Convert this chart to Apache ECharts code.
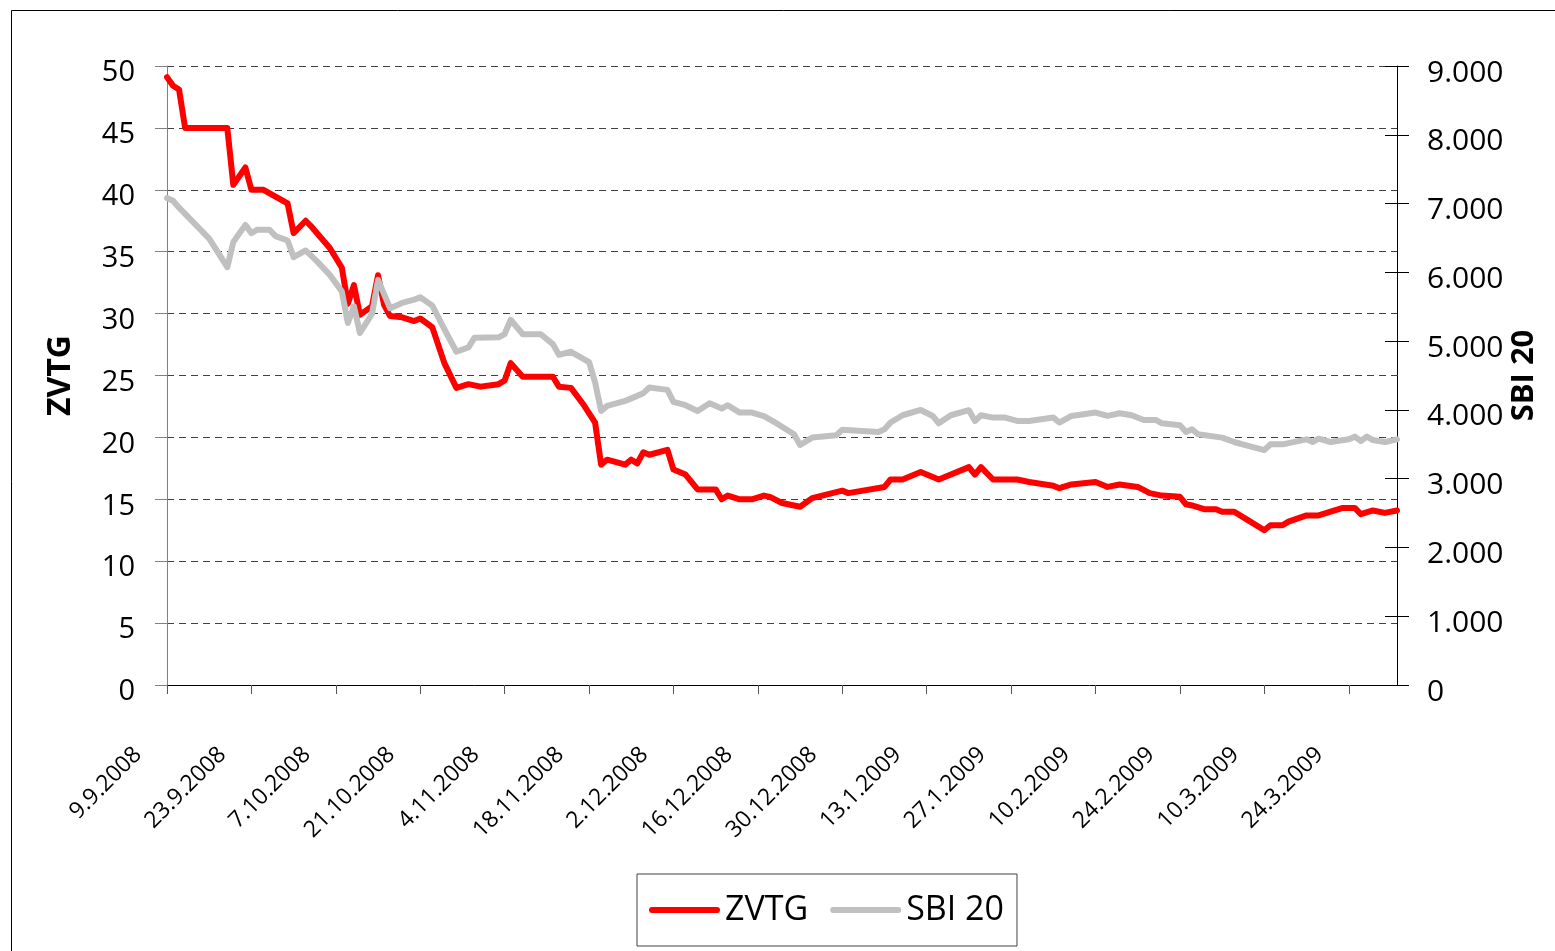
<!DOCTYPE html>
<html>
<head>
<meta charset="utf-8">
<script src="https://cdn.jsdelivr.net/npm/echarts@6/dist/echarts.min.js"></script>
<style>
html,body{margin:0;padding:0;background:#fff;}
#chart{width:1555px;height:951px;}
</style>
</head>
<body>
<div id="chart"></div>
<script>
// Category range: every calendar day from 9.9.2008 to 1.4.2009
const startDate = [2008, 9, 9];
const endDate = [2009, 4, 1];

// ZVTG (left axis), [date, value]
const zvtgPoints = [
  ['9.9.2008',49.1],['10.9.2008',48.4],['11.9.2008',48.1],['12.9.2008',45.0],['19.9.2008',45.0],
  ['20.9.2008',40.4],['22.9.2008',41.8],['23.9.2008',40.0],['25.9.2008',40.0],['29.9.2008',38.9],
  ['30.9.2008',36.5],['2.10.2008',37.5],['3.10.2008',37.0],['6.10.2008',35.3],['8.10.2008',33.7],
  ['9.10.2008',30.8],['10.10.2008',32.3],['11.10.2008',29.9],['13.10.2008',30.6],['14.10.2008',33.1],
  ['15.10.2008',30.7],['16.10.2008',29.8],['18.10.2008',29.7],['20.10.2008',29.4],['21.10.2008',29.6],
  ['23.10.2008',28.9],['25.10.2008',26.0],['27.10.2008',24.0],['29.10.2008',24.3],['31.10.2008',24.1],
  ['3.11.2008',24.3],['4.11.2008',24.6],['5.11.2008',26.0],['7.11.2008',24.9],['12.11.2008',24.9],
  ['13.11.2008',24.1],['15.11.2008',24.0],['17.11.2008',22.7],['19.11.2008',21.2],['20.11.2008',17.8],
  ['21.11.2008',18.2],['24.11.2008',17.8],['25.11.2008',18.2],['26.11.2008',17.9],['27.11.2008',18.8],
  ['28.11.2008',18.6],['1.12.2008',19.0],['2.12.2008',17.4],['4.12.2008',17.0],['6.12.2008',15.8],
  ['9.12.2008',15.8],['10.12.2008',15.0],['11.12.2008',15.3],['13.12.2008',15.0],['15.12.2008',15.0],
  ['17.12.2008',15.3],['18.12.2008',15.2],['20.12.2008',14.7],['23.12.2008',14.4],['25.12.2008',15.1],
  ['30.12.2008',15.7],['31.12.2008',15.5],['6.1.2009',16.0],['7.1.2009',16.6],['9.1.2009',16.6],
  ['12.1.2009',17.2],['15.1.2009',16.6],['16.1.2009',16.8],['20.1.2009',17.6],['21.1.2009',17.0],
  ['22.1.2009',17.6],['24.1.2009',16.6],['28.1.2009',16.6],['30.1.2009',16.4],['3.2.2009',16.1],
  ['4.2.2009',15.9],['6.2.2009',16.2],['10.2.2009',16.4],['12.2.2009',16.0],['14.2.2009',16.2],
  ['17.2.2009',16.0],['19.2.2009',15.5],['21.2.2009',15.3],['24.2.2009',15.2],['25.2.2009',14.6],
  ['26.2.2009',14.5],['28.2.2009',14.2],['2.3.2009',14.2],['3.3.2009',14.0],['5.3.2009',14.0],
  ['7.3.2009',13.4],['10.3.2009',12.5],['11.3.2009',12.9],['13.3.2009',12.9],['14.3.2009',13.2],
  ['17.3.2009',13.7],['19.3.2009',13.7],['23.3.2009',14.3],['25.3.2009',14.3],['26.3.2009',13.8],
  ['28.3.2009',14.1],['30.3.2009',13.9],['1.4.2009',14.1]
];

// SBI 20 (right axis), [date, value]
const sbiPoints = [
  ['9.9.2008',7080],['10.9.2008',7040],['11.9.2008',6940],['16.9.2008',6490],['19.9.2008',6075],
  ['20.9.2008',6440],['22.9.2008',6690],['23.9.2008',6570],['24.9.2008',6620],['26.9.2008',6620],
  ['27.9.2008',6527],['29.9.2008',6463],['30.9.2008',6221],['2.10.2008',6318],['4.10.2008',6148],
  ['6.10.2008',5963],['8.10.2008',5720],['9.10.2008',5263],['10.10.2008',5507],['11.10.2008',5118],
  ['13.10.2008',5395],['14.10.2008',5890],['16.10.2008',5478],['18.10.2008',5555],['20.10.2008',5603],
  ['21.10.2008',5638],['23.10.2008',5516],['25.10.2008',5176],['27.10.2008',4845],['29.10.2008',4909],
  ['30.10.2008',5050],['3.11.2008',5055],['4.11.2008',5103],['5.11.2008',5310],['7.11.2008',5100],
  ['10.11.2008',5100],['12.11.2008',4957],['13.11.2008',4800],['15.11.2008',4845],['18.11.2008',4695],
  ['19.11.2008',4400],['20.11.2008',3985],['21.11.2008',4058],['24.11.2008',4131],['26.11.2008',4204],
  ['27.11.2008',4243],['28.11.2008',4326],['1.12.2008',4291],['2.12.2008',4116],['4.12.2008',4068],
  ['6.12.2008',3985],['8.12.2008',4097],['10.12.2008',4020],['11.12.2008',4068],['13.12.2008',3961],
  ['15.12.2008',3961],['17.12.2008',3910],['19.12.2008',3810],['22.12.2008',3645],['23.12.2008',3490],
  ['25.12.2008',3597],['29.12.2008',3630],['30.12.2008',3710],['5.1.2009',3679],['6.1.2009',3718],
  ['7.1.2009',3816],['9.1.2009',3922],['12.1.2009',3999],['14.1.2009',3912],['15.1.2009',3805],
  ['17.1.2009',3922],['20.1.2009',3995],['21.1.2009',3839],['22.1.2009',3922],['24.1.2009',3888],
  ['26.1.2009',3888],['28.1.2009',3839],['30.1.2009',3839],['3.2.2009',3888],['4.2.2009',3816],
  ['6.2.2009',3912],['10.2.2009',3961],['12.2.2009',3912],['14.2.2009',3951],['16.2.2009',3922],
  ['18.2.2009',3854],['20.2.2009',3854],['21.2.2009',3805],['24.2.2009',3776],['25.2.2009',3679],
  ['26.2.2009',3718],['27.2.2009',3645],['3.3.2009',3597],['5.3.2009',3533],['7.3.2009',3485],
  ['10.3.2009',3416],['11.3.2009',3499],['13.3.2009',3499],['17.3.2009',3572],['18.3.2009',3533],
  ['19.3.2009',3582],['21.3.2009',3533],['24.3.2009',3572],['25.3.2009',3611],['26.3.2009',3548],
  ['27.3.2009',3611],['28.3.2009',3562],['30.3.2009',3533],['1.4.2009',3572]
];

const leftTicks = {min: 0, max: 50, interval: 5};
const rightTicks = {min: 0, max: 9000, interval: 1000};
const seriesNames = ['ZVTG', 'SBI 20'];

// build the category list (calendar days)
const categories = [];
{
  const d = new Date(Date.UTC(startDate[0], startDate[1]-1, startDate[2]));
  const e = new Date(Date.UTC(endDate[0], endDate[1]-1, endDate[2]));
  while (d <= e) {
    categories.push(d.getUTCDate() + '.' + (d.getUTCMonth()+1) + '.' + d.getUTCFullYear());
    d.setUTCDate(d.getUTCDate()+1);
  }
}
const catIndex = {};
categories.forEach((c,i)=>{catIndex[c]=i;});
const toData = pts => pts.map(p => [catIndex[p[0]], p[1]]);

const FONT = 'Open Sans';
const fmtThousands = v => {
  const s = String(Math.round(v));
  return s.replace(/\B(?=(\d{3})+(?!\d))/g, '.');
};

const chart = echarts.init(document.getElementById('chart'), null, {renderer:'canvas'});
chart.setOption({
  animation: false,
  backgroundColor: '#fff',
  textStyle: {fontFamily: FONT},
  graphic: [{
    type: 'rect', silent: true, z: -10,
    shape: {x: 11.5, y: 10.5, width: 1600, height: 1000},
    style: {fill: 'none', stroke: '#000', lineWidth: 1}
  }],
  grid: {left: 167, right: 158, top: 66, bottom: 266, containLabel: false},
  legend: {
    data: seriesNames,
    left: 637, top: 874,
    orient: 'horizontal',
    itemWidth: 71, itemHeight: 6, itemGap: 22,
    padding: [19, 13, 19, 12],
    borderColor: '#404040', borderWidth: 1,
    backgroundColor: '#fff',
    icon: 'path://M3,0H68A3,3,0,0,1,68,6H3A3,3,0,0,1,3,0Z',
    itemStyle: {borderWidth: 0},
    textStyle: {fontFamily: FONT, fontSize: 34, color: '#000'}
  },
  xAxis: {
    type: 'category',
    data: categories,
    boundaryGap: false,
    axisLine: {lineStyle: {color: '#000', width: 1}},
    axisTick: {show: true, interval: 13, length: 9, lineStyle: {color: '#555'}},
    axisLabel: {
      interval: 13, rotate: 45, margin: 37,
      padding: [0, 41, 0, 0],
      fontFamily: FONT, fontSize: 23, color: '#000'
    },
    splitLine: {show: false}
  },
  yAxis: [{
    type: 'value', position: 'left',
    min: leftTicks.min, max: leftTicks.max, interval: leftTicks.interval,
    name: 'ZVTG', nameLocation: 'middle', nameGap: 90, nameRotate: 90,
    nameTextStyle: {fontFamily: FONT, fontSize: 32, fontWeight: 'bold', color: '#000'},
    axisLine: {show: true, lineStyle: {color: '#808080', width: 1}},
    axisTick: {show: true, length: 12, lineStyle: {color: '#808080'}},
    axisLabel: {margin: 32, fontFamily: FONT, fontSize: 29, color: '#000',
      verticalAlign: 'top', lineHeight: 14},
    splitLine: {show: true, lineStyle: {color: '#404040', width: 1, type: [7, 5]}}
  }, {
    type: 'value', position: 'right',
    min: rightTicks.min, max: rightTicks.max, interval: rightTicks.interval,
    name: 'SBI 20', nameLocation: 'middle', nameGap: 112, nameRotate: 90,
    nameMoveOverlap: false,
    nameTextStyle: {fontFamily: FONT, fontSize: 31, fontWeight: 'bold', color: '#000'},
    axisLine: {show: true, lineStyle: {color: '#000', width: 1}},
    axisTick: {show: true, length: 12, lineStyle: {color: '#000'}},
    axisLabel: {margin: 30, fontFamily: FONT, fontSize: 30, color: '#000',
      verticalAlign: 'top', lineHeight: 14,
      formatter: fmtThousands},
    splitLine: {show: false}
  }, {
    type: 'value', position: 'right',
    min: rightTicks.min, max: rightTicks.max, interval: rightTicks.interval,
    axisLine: {show: false},
    axisTick: {show: true, inside: true, length: 12, lineStyle: {color: '#000'}},
    axisLabel: {show: false},
    splitLine: {show: false}
  }],
  series: [{
    name: seriesNames[0], type: 'line', yAxisIndex: 0,
    data: toData(zvtgPoints),
    showSymbol: false, symbol: 'none',
    color: '#FF0000',
    lineStyle: {color: '#FF0000', width: 6, join: 'round', cap: 'round'}
  }, {
    name: seriesNames[1], type: 'line', yAxisIndex: 1,
    data: toData(sbiPoints),
    showSymbol: false, symbol: 'none',
    color: '#C0C0C0',
    lineStyle: {color: '#C0C0C0', width: 6, join: 'round', cap: 'round'}
  }]
});
</script>
</body>
</html>
